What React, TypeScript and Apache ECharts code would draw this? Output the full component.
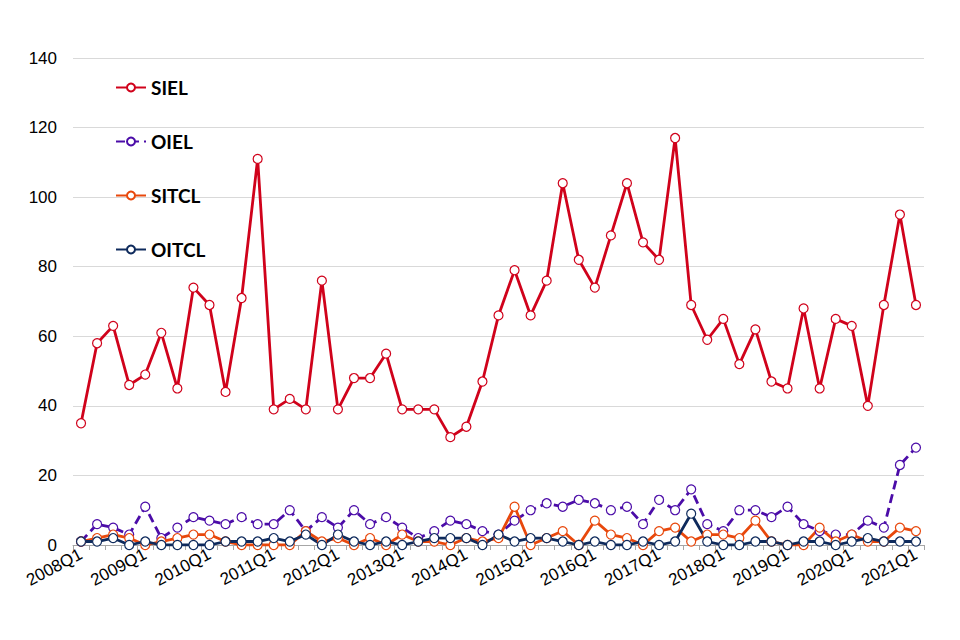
import React, { useEffect, useRef } from "react";
import * as echarts from "echarts";

const quarters: string[] = [];
for (let y = 2008; y <= 2021; y++) {
  for (let q = 1; q <= 4; q++) {
    if (y === 2021 && q > 1) break;
    quarters.push(`${y}Q${q}`);
  }
}

const SIEL = [35, 58, 63, 46, 49, 61, 45, 74, 69, 44, 71, 111, 39, 42, 39, 76, 39, 48, 48, 55, 39, 39, 39, 31, 34, 47, 66, 79, 66, 76, 104, 82, 74, 89, 104, 87, 82, 117, 69, 59, 65, 52, 62, 47, 45, 68, 45, 65, 63, 40, 69, 95, 69];
const OIEL = [1, 6, 5, 3, 11, 2, 5, 8, 7, 6, 8, 6, 6, 10, 4, 8, 5, 10, 6, 8, 5, 2, 4, 7, 6, 4, 3, 7, 10, 12, 11, 13, 12, 10, 11, 6, 13, 10, 16, 6, 4, 10, 10, 8, 11, 6, 4, 3, 3, 7, 5, 23, 28];
const SITCL = [1, 2, 3, 2, 0, 1, 2, 3, 3, 1, 0, 0, 0, 0, 4, 1, 2, 0, 2, 0, 3, 1, 1, 0, 2, 1, 2, 11, 0, 2, 4, 0, 7, 3, 2, 0, 4, 5, 1, 3, 3, 2, 7, 1, 0, 0, 5, 1, 3, 1, 1, 5, 4];
const OITCL = [1, 1, 2, 0, 1, 0, 0, 0, 0, 1, 1, 1, 2, 1, 3, 0, 3, 1, 0, 1, 0, 1, 2, 2, 2, 0, 3, 1, 2, 2, 1, 0, 1, 0, 0, 1, 0, 1, 9, 1, 0, 0, 1, 1, 0, 1, 1, 0, 1, 2, 1, 1, 1];

const seriesNames = ["SIEL", "OIEL", "SITCL", "OITCL"];
const seriesData = [SIEL, OIEL, SITCL, OITCL];
const colors = ["#D0021B", "#4B0CA8", "#E8480C", "#0E2A5C"];
const lineTypes: any[] = ["solid", [9, 5], "solid", "solid"];
const legendTops = [78, 132, 186, 240];

export default function App() {
  const ref = useRef<HTMLDivElement>(null);
  useEffect(() => {
    if (!ref.current) return;
    const chart = echarts.init(ref.current, null, { renderer: "svg" });
    chart.setOption({
      animation: false,
      backgroundColor: "#ffffff",
      grid: { left: 73, right: 36, top: 58, bottom: 95 },
      legend: seriesNames.map((n, i) => ({
        data: [n],
        orient: "vertical",
        left: 115,
        top: legendTops[i],
        padding: 0,
        itemWidth: 30,
        itemHeight: 10,
        itemGap: 4,
        textStyle: {
          fontFamily: "Lato",
          fontWeight: "bold",
          fontSize: 19,
          color: "#000",
        },
      })),
      xAxis: {
        type: "category",
        data: quarters,
        boundaryGap: true,
        axisLine: { lineStyle: { color: "#A6A6A6", width: 1 } },
        axisTick: { show: true, interval: 0, length: 5, lineStyle: { color: "#A6A6A6" } },
        axisLabel: {
          interval: 3,
          rotate: 28,
          fontFamily: "Arial, Liberation Sans",
          fontSize: 17,
          color: "#000",
          margin: 8,
        },
      },
      yAxis: {
        type: "value",
        min: 0,
        max: 140,
        interval: 20,
        axisLine: { show: false },
        axisTick: { show: false },
        splitLine: { lineStyle: { color: "#D9D9D9", width: 1 } },
        axisLabel: {
          fontFamily: "Arial, Liberation Sans",
          fontSize: 17,
          color: "#000",
          margin: 16,
        },
      },
      series: seriesNames.map((n, i) => ({
        name: n,
        type: "line",
        data: seriesData[i],
        symbol: "circle",
        symbolSize: 9,
        showAllSymbol: true,
        itemStyle: { color: "#ffffff", borderColor: colors[i], borderWidth: 1.2 },
        lineStyle: { color: colors[i], width: 2.8, type: lineTypes[i] },
      })),
    });
    return () => chart.dispose();
  }, []);
  return (
    <div
      ref={ref}
      style={{ position: "absolute", left: 0, top: 0, width: 960, height: 640 }}
    />
  );
}
